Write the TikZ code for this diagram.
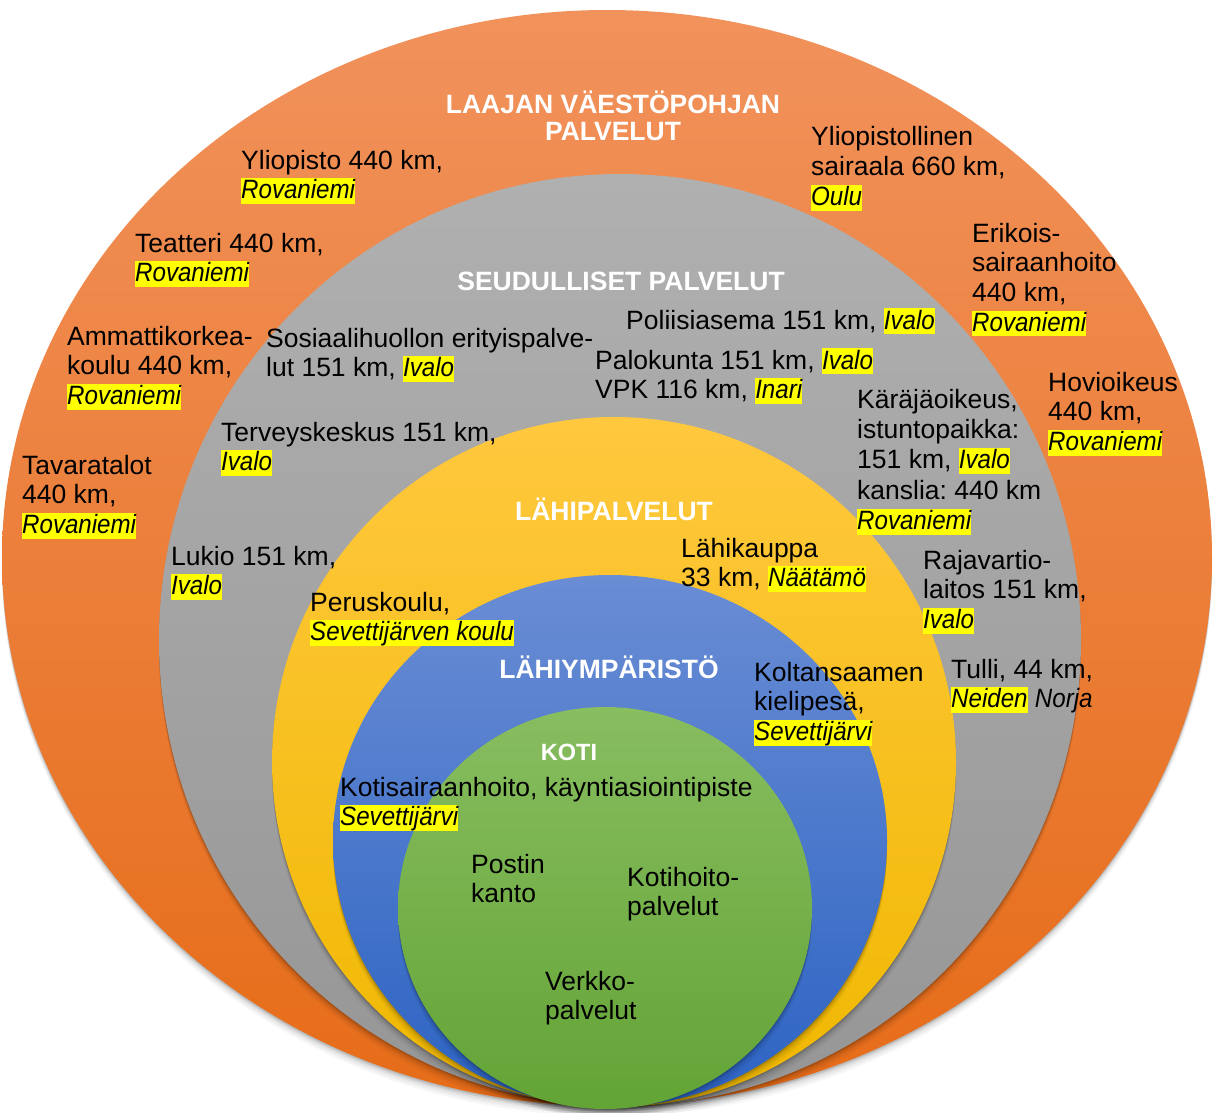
\documentclass[tikz,border=0pt]{standalone}
\usepackage{fontspec}
\usepackage{graphicx}
\setmainfont{Liberation Sans}
\definecolor{hlyel}{RGB}{255,255,0}
\definecolor{orT}{RGB}{241,146,92}
\definecolor{orB}{RGB}{230,108,24}
\definecolor{grT}{RGB}{176,176,176}
\definecolor{grB}{RGB}{150,150,150}
\definecolor{yeT}{RGB}{255,200,62}
\definecolor{yeB}{RGB}{240,184,0}
\definecolor{blT}{RGB}{106,141,212}
\definecolor{blB}{RGB}{44,99,195}
\definecolor{gnT}{RGB}{136,189,96}
\definecolor{gnB}{RGB}{99,164,54}
\newcommand\itw[1]{\scalebox{0.91}[1]{\itshape #1}}
\newcommand\hlw[1]{{\setlength\fboxsep{0pt}\colorbox{hlyel}{\rule[-5pt]{0pt}{25.8pt}\itw{#1}}}}
\newcommand\blk[1]{\begin{tabular}[t]{@{}l@{}}#1\end{tabular}}
\newcommand\ctr[1]{\begin{tabular}[t]{@{}c@{}}#1\end{tabular}}
\newcommand\ringshadow[4]{%
  \foreach \d/\o in {1.5/0.10,3/0.08,5/0.06,7.5/0.045,10/0.03}{%
    \fill[black,opacity=\o] (#1,#2+\d) ellipse [x radius=#3pt, y radius=#4pt];}}
\tikzset{
  lbl/.style={anchor=base west, inner sep=0pt, text=black,
    font=\frenchspacing\fontsize{26.5pt}{29.8pt}\selectfont},
  lblwide/.style={lbl, font=\frenchspacing\fontsize{26.5pt}{30.4pt}\selectfont},
  ttl/.style={anchor=base, inner sep=0pt, text=white,
    font=\bfseries\fontsize{26.5pt}{27pt}\selectfont},
}
\begin{document}
\begin{tikzpicture}[x=1pt,y=-1pt]
\useasboundingbox (0,0) rectangle (1213,1113);
% rings
\ringshadow{607}{558}{605}{548}
\shade[top color=orT,bottom color=orB] (607,558) ellipse [x radius=605pt, y radius=548pt];
\ringshadow{620}{640}{461}{466}
\shade[top color=grT,bottom color=grB] (620,640) ellipse [x radius=461pt, y radius=466pt];
\ringshadow{614}{762}{342}{345}
\shade[top color=yeT,bottom color=yeB] (614,762) ellipse [x radius=342pt, y radius=345pt];
\ringshadow{610}{841}{277}{266}
\shade[top color=blT,bottom color=blB] (610,841) ellipse [x radius=277pt, y radius=266pt];
\ringshadow{605}{908}{207}{201}
\shade[top color=gnT,bottom color=gnB] (605,908) ellipse [x radius=207pt, y radius=201pt];

% outer ring texts
\node[ttl] (t1) at (613,114) {\ctr{LAAJAN VÄESTÖPOHJAN\\PALVELUT}};
\node[lbl] (yo) at (241,169) {\blk{Yliopisto 440 km,\\\hlw{Rovaniemi}}};
\node[lbl] (ys) at (811,146) {\blk{Yliopistollinen\\sairaala 660 km,\\\hlw{Oulu}}};
\node[lbl] (te) at (135,252) {\blk{Teatteri 440 km,\\\hlw{Rovaniemi}}};
\node[lbl] (er) at (972,242) {\blk{Erikois-\\sairaanhoito\\440 km,\\\hlw{Rovaniemi}}};
\node[lbl] (am) at (67,345) {\blk{Ammattikorkea-\\koulu 440 km,\\\hlw{Rovaniemi}}};
\node[lbl] (ho) at (1048,391) {\blk{Hovioikeus\\440 km,\\\hlw{Rovaniemi}}};
\node[lbl] (ta) at (22,474) {\blk{Tavaratalot\\440 km,\\\hlw{Rovaniemi}}};

% gray ring texts
\node[ttl] (t2) at (621,290) {SEUDULLISET PALVELUT};
\node[lbl] (po) at (626,329) {\blk{Poliisiasema 151 km, \hlw{Ivalo}}};
\node[lbl] (so) at (266,347) {\blk{Sosiaalihuollon erityispalve-\\lut 151 km, \hlw{Ivalo}}};
\node[lbl] (pa) at (595,369) {\blk{Palokunta 151 km, \hlw{Ivalo}\\VPK 116 km, \hlw{Inari}}};
\node[lblwide] (ka) at (857,408) {\blk{Käräjäoikeus,\\istuntopaikka:\\151 km, \hlw{Ivalo}\\kanslia: 440 km\\\hlw{Rovaniemi}}};
\node[lbl] (tk) at (221,441) {\blk{Terveyskeskus 151 km,\\\hlw{Ivalo}}};
\node[lbl] (lu) at (171,565) {\blk{Lukio 151 km,\\\hlw{Ivalo}}};
\node[lbl] (ra) at (923,569) {\blk{Rajavartio-\\laitos 151 km,\\\hlw{Ivalo}}};
\node[lbl] (tu) at (951,678) {\blk{Tulli, 44 km,\\\hlw{Neiden} \itw{Norja}}};

% yellow ring texts
\node[ttl] (t3) at (614,520) {LÄHIPALVELUT};
\node[lbl] (lk) at (681,557) {\blk{Lähikauppa\\33 km, \hlw{Näätämö}}};
\node[lbl] (pk) at (310,611) {\blk{Peruskoulu,\\\hlw{Sevettijärven koulu}}};

% blue ring texts
\node[ttl] (t4) at (609,678) {LÄHIYMPÄRISTÖ};
\node[lbl] (ko) at (754,681) {\blk{Koltansaamen\\kielipesä,\\\hlw{Sevettijärvi}}};
\node[lbl] (ks) at (340,796) {\blk{Kotisairaanhoito, käyntiasiointipiste\\\hlw{Sevettijärvi}}};

% green texts
\node[ttl,font=\bfseries\fontsize{23.5pt}{25pt}\selectfont] (t5) at (569,760) {KOTI};
\node[lbl] (pt) at (471,873) {\blk{Postin\\kanto}};
\node[lbl] (kh) at (627,886) {\blk{Kotihoito-\\palvelut}};
\node[lbl] (ve) at (545,990) {\blk{Verkko-\\palvelut}};
\end{tikzpicture}
\end{document}
